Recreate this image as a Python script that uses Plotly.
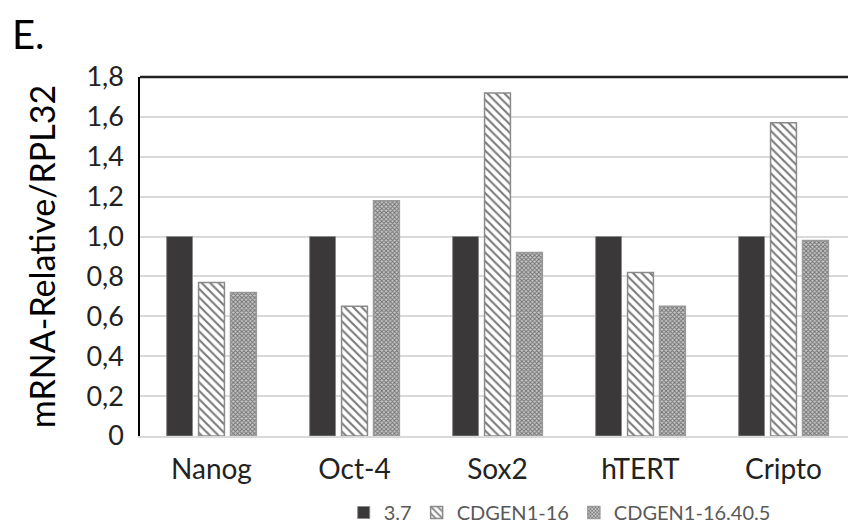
import plotly.graph_objects as go

categories = ["Nanog", "Oct-4", "Sox2", "hTERT", "Cripto"]
series_names = ["3.7", "CDGEN1-16", "CDGEN1-16.40.5"]
vals_37 = [1.0, 1.0, 1.0, 1.0, 1.0]
vals_cd16 = [0.77, 0.65, 1.72, 0.82, 1.57]
vals_cd1640 = [0.72, 1.18, 0.92, 0.65, 0.98]
tick_vals = [0, 0.2, 0.4, 0.6, 0.8, 1.0, 1.2, 1.4, 1.6, 1.8]
tick_text = ["0", "0,2", "0,4", "0,6", "0,8", "1,0", "1,2", "1,4", "1,6", "1,8"]

FONT = "Lato, 'Open Sans', sans-serif"

fig = go.Figure()
fig.add_trace(go.Bar(
    x=categories, y=vals_37, name=series_names[0],
    marker=dict(color="#3a3838", line=dict(color="#8a8a8a", width=1)),
))
fig.add_trace(go.Bar(
    x=categories, y=vals_cd16, name=series_names[1],
    marker=dict(color="white", line=dict(color="#8a8a8a", width=1.5),
                pattern=dict(shape="\\", fgcolor="#7a7a7a", bgcolor="white",
                             size=6, solidity=0.35, fillmode="replace")),
))
fig.add_trace(go.Bar(
    x=categories, y=vals_cd1640, name=series_names[2],
    marker=dict(color="#a0a0a0", line=dict(color="#9a9a9a", width=1.5),
                pattern=dict(shape="x", fgcolor="#6e6e6e", bgcolor="#c8c8c8",
                             size=3, solidity=0.5, fillmode="replace")),
))

fig.update_layout(
    width=848, height=524,
    barmode="group", bargap=0.33, bargroupgap=0.19,
    plot_bgcolor="white", paper_bgcolor="white",
    margin=dict(l=132, r=1, t=69, b=95),
    font=dict(family=FONT, color="#222222"),
    showlegend=True,
    legend=dict(orientation="h", x=0.587, xanchor="center", y=-0.21, yanchor="middle",
                font=dict(size=20, color="#595959"), itemwidth=30,
                traceorder="normal", tracegroupgap=0),
    annotations=[dict(text="E.", x=-0.1818, y=1.1917, xref="paper", yref="paper", showarrow=False,
                      xanchor="left", yanchor="top", font=dict(size=40, color="black", family=FONT))],
)

fig.update_yaxes(
    range=[0, 1.8], tickvals=tick_vals, ticktext=tick_text,
    tickfont=dict(size=27, color="#222222"),
    showgrid=True, gridcolor="#d9d9d9", gridwidth=1.5,
    showline=True, linecolor="black", linewidth=1.5, mirror=False,
    zeroline=False, ticks="", ticklabelstandoff=9,
    title=dict(text="mRNA-Relative/RPL32", font=dict(size=34, color="black"), standoff=20),
)
fig.update_xaxes(
    tickfont=dict(size=28, color="#222222"),
    showline=True, linecolor="#d9d9d9", linewidth=1.5,
    ticks="", ticklabelstandoff=8,
)
fig.add_shape(type="line", xref="paper", yref="paper", x0=0, x1=1, y0=1, y1=1,
              line=dict(color="#222222", width=2.5))

fig.write_html("out.html")
